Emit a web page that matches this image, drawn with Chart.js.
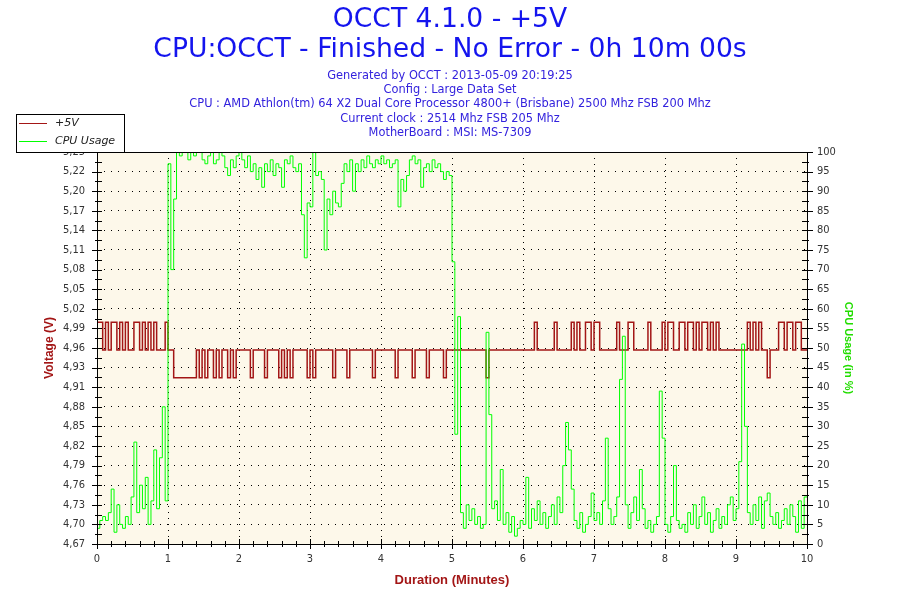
<!DOCTYPE html>
<html lang="en">
<head>
    <meta charset="UTF-8">
    <title>OCCT 4.1.0 - +5V</title>
    <script src="https://cdn.jsdelivr.net/npm/chart.js"></script>
    <style>
        body { margin: 0; background: #ffffff; }
        #chart-container { width: 900px; height: 600px; }
    </style>
</head>
<body>
    <div id="chart-container">
        <canvas id="occtChart" width="900" height="600"></canvas>
    </div>

    <script>
        // Header text
        const titleLines = ['OCCT 4.1.0 - +5V', 'CPU:OCCT - Finished - No Error - 0h 10m 00s'];
        const infoLines = [
            'Generated by OCCT : 2013-05-09 20:19:25',
            'Config : Large Data Set',
            'CPU : AMD Athlon(tm) 64 X2 Dual Core Processor 4800+ (Brisbane) 2500 Mhz FSB 200 Mhz',
            'Current clock : 2514 Mhz FSB 205 Mhz',
            'MotherBoard : MSI: MS-7309'
        ];

        // Tick labels
        const durationLabels = ['0', '1', '2', '3', '4', '5', '6', '7', '8', '9', '10'];
        const voltageLabels = ['4,67', '4,70', '4,73', '4,76', '4,79', '4,82', '4,85', '4,88', '4,91', '4,93',
            '4,96', '4,99', '5,02', '5,05', '5,08', '5,11', '5,14', '5,17', '5,20', '5,22', '5,25'];
        const cpuLabels = ['0', '5', '10', '15', '20', '25', '30', '35', '40', '45', '50',
            '55', '60', '65', '70', '75', '80', '85', '90', '95', '100'];

        const VOLT_MIN = 4.67, VOLT_MAX = 5.25;
        const SAMPLE_STEP = 0.04; // minutes between samples

        // voltage readings: three levels seen in the log
        const H = 4.998, M = 4.957, L = 4.916;
        const voltage = [
            H, H, M, H, M, H, H, M, H, M, H, M, M, H, H, M, H, M, H, M, H, M, M, M, H,
            M, M, L, L, L, L, L, L, L, L, M, L, M, L, M, M, L, M, L, M, M, L, M, L, M,
            M, M, M, M, L, M, M, M, M, L, M, M, M, M, L, M, L, M, L, M, M, M, M, M, L,
            M, L, M, M, M, M, M, M, L, M, M, M, M, L, M, M, M, M, M, M, M, M, L, M, M,
            M, M, M, M, M, L, M, M, M, M, M, L, M, M, M, M, L, M, M, M, M, M, L, M, M,
            M, M, M, M, M, M, M, M, M, M, M, M, L, M, M, M, M, M, M, M, M, M, M, M, M,
            M, M, M, M, H, M, M, M, M, M, M, H, M, M, M, M, M, H, M, H, M, M, H, H, M,
            H, H, M, M, M, M, M, M, H, M, M, M, H, H, M, M, M, M, M, H, M, M, M, M, H,
            M, H, H, M, M, H, H, M, H, H, M, H, M, H, H, M, H, M, H, M, M, M, M, M, M,
            M, M, M, M, H, M, H, M, H, M, M, L, M, M, M, H, H, M, H, H, M, H, H, M, M, M
        ];

        // CPU usage in %
        const cpuUsage = [
            4, 6, 7, 6, 8, 14, 3, 10, 5, 4, 7, 5, 12, 26, 8, 15, 9, 17, 5, 11, 24, 9, 22, 35, 11,
            97, 70, 88, 100, 99, 100, 100, 98, 100, 99, 100, 100, 98, 97, 99, 100, 97, 98, 100, 99, 96, 94, 98, 96, 99,
            100, 98, 96, 99, 95, 97, 93, 96, 91, 97, 95, 98, 94, 97, 96, 91, 98, 97, 99, 96, 95, 97, 84, 73, 87,
            86, 100, 94, 95, 93, 75, 88, 84, 90, 87, 86, 92, 97, 95, 98, 90, 97, 95, 98, 96, 99, 97, 96, 98, 97,
            99, 97, 98, 96, 97, 98, 86, 93, 90, 94, 98, 99, 97, 98, 91, 96, 97, 95, 98, 96, 97, 95, 93, 95, 94,
            72, 28, 58, 8, 4, 10, 6, 9, 5, 7, 4, 5, 54, 33, 9, 11, 6, 19, 5, 8, 3, 7, 2, 4, 6,
            5, 17, 4, 9, 6, 11, 5, 8, 4, 7, 10, 5, 12, 8, 20, 31, 24, 14, 6, 4, 8, 3, 5, 7, 13,
            6, 8, 5, 11, 27, 9, 5, 7, 12, 42, 53, 10, 4, 8, 12, 6, 19, 9, 4, 6, 3, 5, 7, 39, 27,
            5, 3, 7, 20, 6, 4, 5, 3, 8, 5, 10, 4, 7, 12, 5, 8, 3, 6, 9, 4, 7, 5, 10, 12, 6,
            9, 21, 51, 30, 8, 5, 10, 6, 12, 4, 11, 13, 7, 5, 8, 4, 6, 9, 5, 10, 7, 3, 11, 4, 12, 12
        ];

        const VOLT_COLOR = '#a31616';
        const CPU_COLOR = '#00ff00';
        const PLOT_BG = '#fdf8ea';
        const TICK_FONT = "'DejaVu Sans Condensed', 'Liberation Sans', sans-serif";
        const AXIS_FONT = "'Liberation Sans', Arial, sans-serif";

        const toPoints = (arr) => arr.map((v, i) => ({ x: i * SAMPLE_STEP, y: v }));

        // major ticks with minor ticks between
        function makeTicks(min, max, majorCount, sub) {
            const n = (majorCount - 1) * sub;
            const ticks = [];
            for (let i = 0; i <= n; i++) {
                ticks.push({ value: min + (max - min) * i / n, big: i % sub === 0 });
            }
            return ticks;
        }

        const dotted = (last) => (c) =>
            (c.tick && c.tick.big && c.index > 0 && c.index < last) ? '#000000' : 'rgba(0,0,0,0)';

        // background, frame, tick marks and the legend box
        const chartDecor = {
            id: 'chartDecor',
            beforeDraw(chart) {
                const { ctx, chartArea: a } = chart;
                ctx.save();
                ctx.fillStyle = '#ffffff';
                ctx.fillRect(0, 0, chart.width, chart.height);
                ctx.fillStyle = PLOT_BG;
                ctx.fillRect(a.left, a.top, a.right - a.left, a.bottom - a.top);
                ctx.restore();
            },
            afterDraw(chart) {
                const { ctx, chartArea: a, scales } = chart;
                ctx.save();
                ctx.strokeStyle = '#000000';
                ctx.lineWidth = 1;
                ctx.strokeRect(a.left + 0.5, a.top + 0.5, a.right - a.left, a.bottom - a.top);

                ctx.beginPath();
                scales.x.ticks.forEach(t => {
                    const px = Math.round(scales.x.getPixelForValue(t.value)) + 0.5;
                    const len = t.big ? 5 : 3;
                    ctx.moveTo(px, a.bottom - len);
                    ctx.lineTo(px, a.bottom + len);
                });
                scales.y.ticks.forEach(t => {
                    const py = Math.round(scales.y.getPixelForValue(t.value)) + 0.5;
                    ctx.moveTo(a.left - (t.big ? 5 : 2), py);
                    ctx.lineTo(a.left + 5, py);
                });
                scales.y1.ticks.forEach(t => {
                    const py = Math.round(scales.y1.getPixelForValue(t.value)) + 0.5;
                    ctx.moveTo(a.right - 5, py);
                    ctx.lineTo(a.right + (t.big ? 6 : 2), py);
                });
                ctx.stroke();

                // legend
                ctx.fillStyle = '#ffffff';
                ctx.fillRect(16, 114, 108, 38);
                ctx.strokeRect(16.5, 114.5, 108, 38);
                ctx.font = "italic 11px 'DejaVu Sans', sans-serif";
                ctx.textBaseline = 'middle';
                chart.data.datasets.forEach((ds, i) => {
                    const y = 123.5 + i * 18;
                    ctx.strokeStyle = ds.borderColor;
                    ctx.beginPath();
                    ctx.moveTo(19, y);
                    ctx.lineTo(47, y);
                    ctx.stroke();
                    ctx.fillStyle = '#222222';
                    ctx.fillText(ds.label, 55, y);
                });
                ctx.restore();
            }
        };

        const config = {
            type: 'line',
            data: {
                datasets: [
                    {
                        label: '+5V',
                        data: toPoints(voltage),
                        yAxisID: 'y',
                        borderColor: VOLT_COLOR,
                        borderWidth: 1.5,
                        stepped: true,
                        pointRadius: 0,
                        fill: false,
                        order: 1
                    },
                    {
                        label: 'CPU Usage',
                        data: toPoints(cpuUsage),
                        yAxisID: 'y1',
                        borderColor: CPU_COLOR,
                        borderWidth: 1,
                        stepped: true,
                        pointRadius: 0,
                        fill: false,
                        order: 0
                    }
                ]
            },
            options: {
                responsive: false,
                animation: false,
                devicePixelRatio: 1,
                layout: { padding: 0 },
                plugins: {
                    legend: { display: false },
                    tooltip: { enabled: false },
                    title: {
                        display: true,
                        text: titleLines,
                        color: '#1414ee',
                        font: { family: "'DejaVu Sans', sans-serif", size: 26.6, weight: 'normal', lineHeight: '30px' },
                        padding: { top: 5, bottom: 0 }
                    },
                    subtitle: {
                        display: true,
                        text: infoLines,
                        color: '#3322dd',
                        font: { family: "'DejaVu Sans', sans-serif", size: 11.4, lineHeight: '14.2px' },
                        padding: { top: 4, bottom: 12 }
                    }
                },
                scales: {
                    x: {
                        type: 'linear',
                        min: 0,
                        max: 10,
                        afterBuildTicks: (s) => { s.ticks = makeTicks(0, 10, durationLabels.length, 5); },
                        afterFit: (s) => { s.height = 56; },
                        ticks: {
                            autoSkip: false,
                            maxRotation: 0,
                            padding: 9,
                            color: '#333333',
                            font: { family: TICK_FONT, size: 11 },
                            callback: (v, i) => i % 5 === 0 ? durationLabels[i / 5] : ''
                        },
                        grid: { color: dotted(50), drawTicks: false },
                        border: { display: false, dash: [1, 5] },
                        title: {
                            display: true,
                            text: 'Duration (Minutes)',
                            color: VOLT_COLOR,
                            font: { family: AXIS_FONT, size: 13, weight: 'bold' },
                            padding: { top: 0, bottom: 12.2 }
                        }
                    },
                    y: {
                        type: 'linear',
                        position: 'left',
                        min: VOLT_MIN,
                        max: VOLT_MAX,
                        afterBuildTicks: (s) => { s.ticks = makeTicks(VOLT_MIN, VOLT_MAX, voltageLabels.length, 2); },
                        afterFit: (s) => { s.width = 97; },
                        ticks: {
                            autoSkip: false,
                            padding: 12,
                            color: '#333333',
                            font: { family: TICK_FONT, size: 11 },
                            callback: (v, i) => i % 2 === 0 ? voltageLabels[i / 2] : ''
                        },
                        grid: { color: dotted(40), drawTicks: false },
                        border: { display: false, dash: [1, 6] },
                        title: {
                            display: true,
                            text: 'Voltage (V)',
                            color: VOLT_COLOR,
                            font: { family: AXIS_FONT, size: 12, weight: 'bold' },
                            padding: { top: 42.8, bottom: 0 }
                        }
                    },
                    y1: {
                        type: 'linear',
                        position: 'right',
                        min: 0,
                        max: 100,
                        afterBuildTicks: (s) => { s.ticks = makeTicks(0, 100, cpuLabels.length, 2); },
                        afterFit: (s) => { s.width = 93; },
                        ticks: {
                            autoSkip: false,
                            padding: 10,
                            color: '#333333',
                            font: { family: TICK_FONT, size: 11 },
                            callback: (v, i) => i % 2 === 0 ? cpuLabels[i / 2] : ''
                        },
                        grid: { drawOnChartArea: false, drawTicks: false },
                        border: { display: false },
                        title: {
                            display: true,
                            text: 'CPU Usage (in %)',
                            color: '#22dd00',
                            font: { family: AXIS_FONT, size: 11, weight: 'bold' },
                            padding: { top: 45.4, bottom: 0 }
                        }
                    }
                }
            },
            plugins: [chartDecor]
        };

        const occtChart = new Chart(document.getElementById('occtChart'), config);
    </script>
</body>
</html>
